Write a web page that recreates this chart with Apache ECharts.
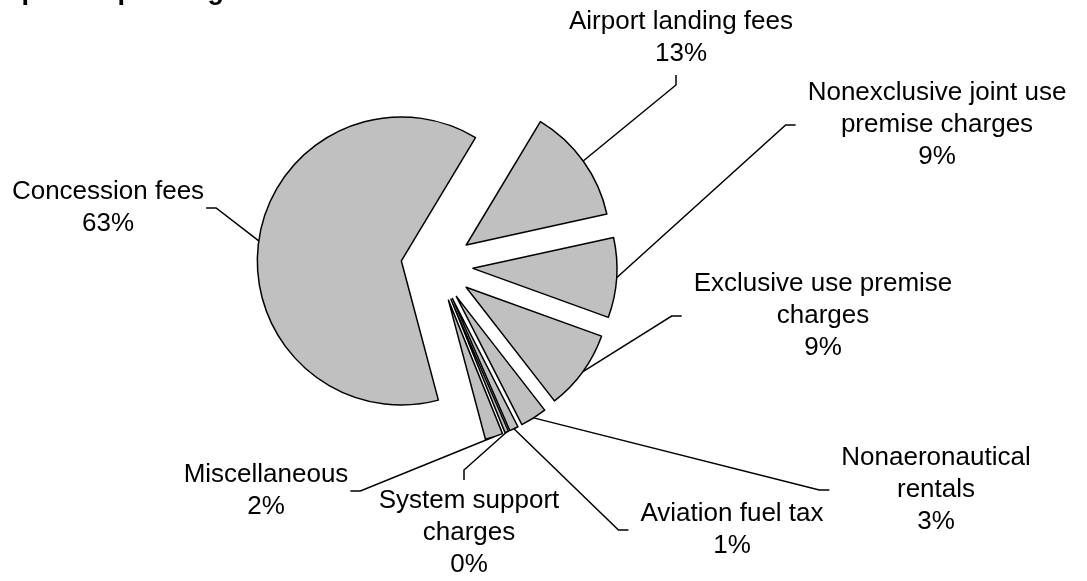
<!DOCTYPE html>
<html><head><meta charset="utf-8">
<script src="https://cdn.jsdelivr.net/npm/echarts@6/dist/echarts.min.js"></script>
<style>html,body{margin:0;padding:0;background:#fff}#c{width:1087px;height:581px}</style>
</head><body><div id="c"></div>
<script>
const titleText = 'Airports Operating Revenue';
const categories = [
  'Airport landing fees',
  'Nonexclusive joint use\npremise charges',
  'Exclusive use premise\ncharges',
  'Nonaeronautical\nrentals',
  'Aviation fuel tax',
  'System support\ncharges',
  'Miscellaneous',
  'Concession fees'
];
const shares = [13, 9, 9, 3, 1, 0.4, 2, 63];

// layout constants
const CX = 437, CY = 266, R = 144, OFF = 36, START = 59;
const PAD = [5, 2, 5, 12];
const labelCenters = [[681,38],[937,125],[823,316],[936,490],[732,530],[469,533],[266,491],[108,208]];

const FONT = 'Liberation Sans, Arial, sans-serif';
const total = shares.reduce((a, b) => a + b, 0);
let cum = 0;
const series = shares.map((v, k) => {
  const mid = (START - 360 * (cum + v / 2) / total) * Math.PI / 180;
  cum += v;
  return {
    type: 'pie',
    center: [CX + OFF * Math.cos(mid), CY - OFF * Math.sin(mid)],
    radius: R,
    startAngle: START,
    clockwise: true,
    avoidLabelOverlap: false,
    percentPrecision: 0,
    silent: true,
    emphasis: {disabled: true},
    itemStyle: {color: '#c0c0c0', borderColor: '#000', borderWidth: 1.5},
    label: {
      show: true, position: 'outside', formatter: '{b}\n{d}%',
      color: '#000', fontSize: 26, lineHeight: 32, align: 'center',
      fontFamily: FONT, padding: PAD
    },
    labelLine: {show: true, length: 15, length2: 10, smooth: false, lineStyle: {color: '#000', width: 1.5}},
    labelLayout: function (p) {
      const c = labelCenters[p.dataIndex];
      return {x: c[0] - (PAD[3] - PAD[1]) / 2, y: c[1], align: 'center', verticalAlign: 'middle'};
    },
    data: categories.map((n, i) => i === k
      ? {name: n, value: shares[i]}
      : {name: n, value: shares[i], itemStyle: {color: 'rgba(0,0,0,0)', borderWidth: 0},
         label: {show: false}, labelLine: {show: false}})
  };
});

const chart = echarts.init(document.getElementById('c'), null, {renderer: 'canvas'});
chart.setOption({
  animation: false,
  backgroundColor: '#ffffff',
  title: {
    text: titleText, left: -16, top: -21.5, padding: 0,
    textStyle: {fontSize: 27, fontWeight: 'bold', color: '#000', fontFamily: FONT}
  },
  series: series
});
</script></body></html>
